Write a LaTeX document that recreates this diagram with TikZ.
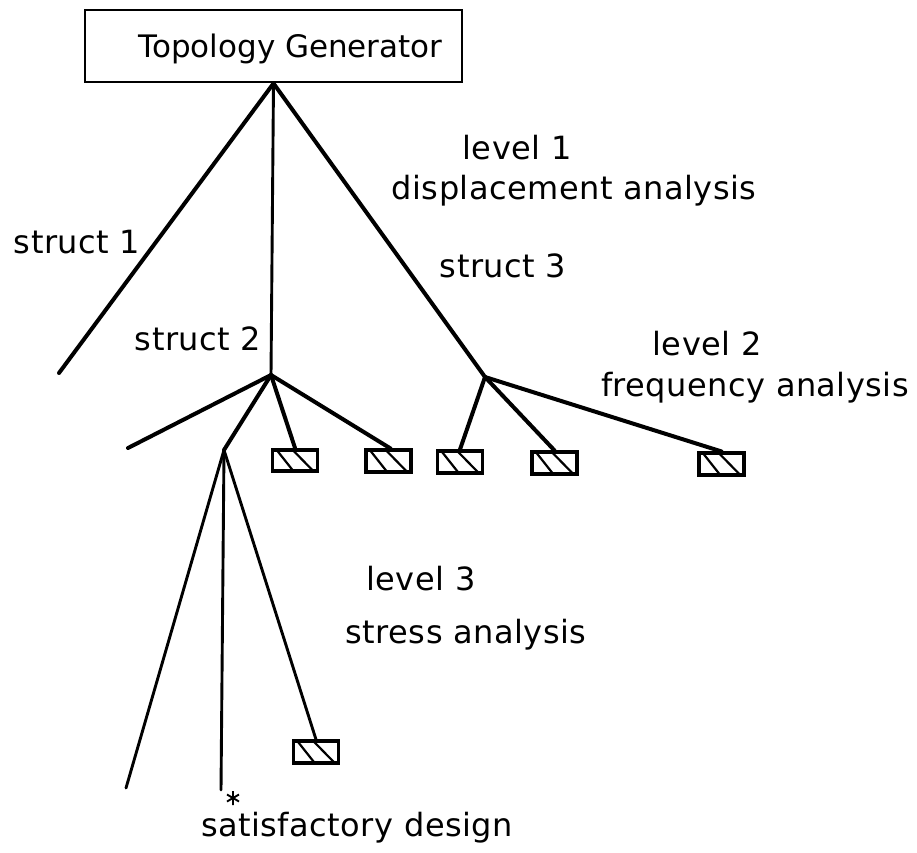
\documentclass[tikz,border=0pt]{standalone}
\usepackage{fontspec}
\setmainfont{DejaVu Sans}
\newfontfamily\labelfont[LetterSpace=1.5]{DejaVu Sans}
\begin{document}
\begin{tikzpicture}[x=1pt,y=-1pt,
  branch/.style={line width=4pt,line cap=round},
  thinbranch/.style={line width=2.9pt,line cap=round},
  genbox/.style={draw,line width=2.8pt,rectangle,inner sep=0pt,
    minimum width=377pt,minimum height=72pt,text depth=0pt,
    font=\fontsize{31}{37}\selectfont},
  leafbox/.style={draw,line width=3.6pt,rectangle,inner sep=0pt,
    minimum width=45pt,minimum height=21.5pt,
    path picture={
      \draw[line width=2.2pt]
        ([xshift=4pt]path picture bounding box.north west) --
        ([xshift=21pt]path picture bounding box.south west)
        ([xshift=20pt]path picture bounding box.north west) --
        ([xshift=-4pt]path picture bounding box.south east);
    }},
  lbl/.style={anchor=base,inner sep=0pt,
    font=\labelfont\fontsize{32}{38}\selectfont}
]
\useasboundingbox (0,0) rectangle (917,852);

% generator at the root of the search tree
\node[genbox] (gen) at (273.5,46) {\hspace*{34pt}Topology Generator};

% branch points
\coordinate (s2) at (271,375);
\coordinate (s3) at (485,377);
\coordinate (s21) at (224,450);

% free ends of unexplored branches
\coordinate (e1) at (59,373);
\coordinate (e2) at (128,448);
\coordinate (e3) at (126,788);
\coordinate (e4) at (221,790);

% pruned designs
\node[leafbox] (b1) at (295,460.5) {};
\node[leafbox] (b2) at (388.5,461) {};
\node[leafbox] (b3) at (460,462) {};
\node[leafbox] (b4) at (554.5,463) {};
\node[leafbox] (b5) at (721.5,464) {};
\node[leafbox] (b6) at (316,752) {};

% level 1
\draw[branch] (gen.south) -- (e1);
\draw[thinbranch] (gen.south) -- (s2);
\draw[branch] (gen.south) -- (s3);

% level 2
\draw[branch] (s2) -- (e2);
\draw[branch] (s2) -- (s21);
\draw[branch] (s2) -- (b1.north);
\draw[branch] (s2) -- ([xshift=2pt]b2.north);
\draw[branch] (s3) -- (b3.north);
\draw[branch] (s3) -- (b4.north);
\draw[branch] (s3) -- (b5.north);

% level 3
\draw[thinbranch] (s21) -- (e3);
\draw[thinbranch] (s21) -- (e4);
\draw[thinbranch] (s21) -- (b6.north);

% satisfactory design marker
\coordinate (star) at (233,798);
\draw[line width=1.9pt] ([yshift=-7pt]star) -- ([yshift=7pt]star)
  ([shift={(-6pt,-3.5pt)}]star) -- ([shift={(6pt,3.5pt)}]star)
  ([shift={(-6pt,3.5pt)}]star) -- ([shift={(6pt,-3.5pt)}]star);

% labels
\node[lbl] (l1) at (517,159) {level 1};
\node[lbl] (l1a) at (574,199) {displacement analysis};
\node[lbl] (st1) at (77,253) {struct 1};
\node[lbl] (st3) at (503,277) {struct 3};
\node[lbl] (st2) at (198,350) {struct 2};
\node[lbl] (l2) at (707,355) {level 2};
\node[lbl] (l2a) at (755,396) {frequency analysis};
\node[lbl] (l3) at (421,590) {level 3};
\node[lbl] (l3a) at (466,643) {stress analysis};
\node[lbl] (sat) at (357,836) {satisfactory design};
\end{tikzpicture}
\end{document}
